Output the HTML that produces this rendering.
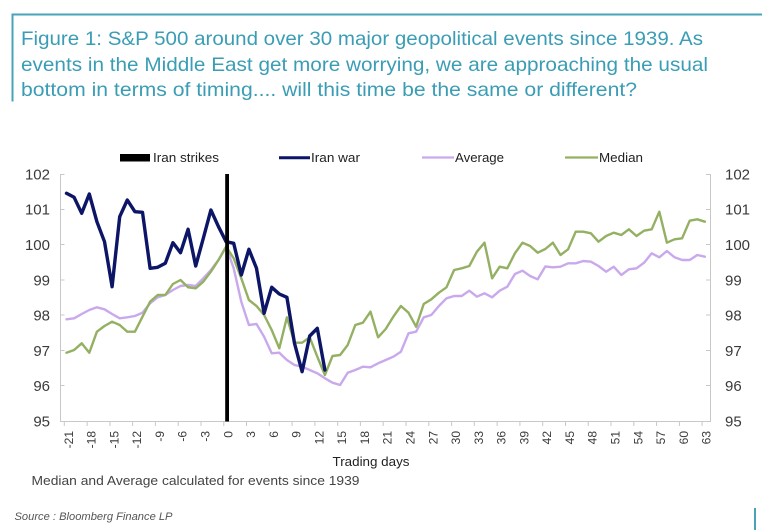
<!DOCTYPE html>
<html>
<head>
<meta charset="utf-8">
<style>
  html, body { margin: 0; padding: 0; background: #ffffff; }
  svg { display: block; }
  text { font-family: "Liberation Sans", "DejaVu Sans", sans-serif; }
</style>
</head>
<body>
<svg width="762" height="530" viewBox="0 0 762 530" xmlns="http://www.w3.org/2000/svg">
  <rect x="0" y="0" width="762" height="530" fill="#ffffff"/>

  <!-- teal frame -->
  <rect x="12" y="13.5" width="750" height="2" fill="#4aa4b9"/>
  <rect x="11.5" y="13.5" width="2" height="88" fill="#4aa4b9"/>
  <rect x="754" y="508" width="2" height="22" fill="#4aa4b9"/>

  <!-- title -->
  <g fill="#3a9db5" font-size="19.5">
    <text x="21" y="45" textLength="682" lengthAdjust="spacingAndGlyphs">Figure 1: S&amp;P 500 around over 30 major geopolitical events since 1939. As</text>
    <text x="21" y="71" textLength="687" lengthAdjust="spacingAndGlyphs">events in the Middle East get more worrying, we are approaching the usual</text>
    <text x="21" y="96" textLength="616" lengthAdjust="spacingAndGlyphs">bottom in terms of timing.... will this time be the same or different?</text>
  </g>

  <!-- legend -->
  <g font-size="13" fill="#222">
    <rect x="120" y="154" width="30" height="7.5" fill="#000"/>
    <text x="153" y="162" textLength="66" lengthAdjust="spacingAndGlyphs">Iran strikes</text>
    <line x1="279" y1="157.8" x2="310" y2="157.8" stroke="#0c1566" stroke-width="3"/>
    <text x="311" y="162" textLength="49" lengthAdjust="spacingAndGlyphs">Iran war</text>
    <line x1="422" y1="157.5" x2="454" y2="157.5" stroke="#c9a9ec" stroke-width="2.2"/>
    <text x="455" y="162" textLength="49" lengthAdjust="spacingAndGlyphs">Average</text>
    <line x1="565" y1="157.5" x2="598" y2="157.5" stroke="#94b062" stroke-width="2.2"/>
    <text x="599" y="162" textLength="44" lengthAdjust="spacingAndGlyphs">Median</text>
  </g>

  <!-- axes -->
  <g stroke="#c8c8c8" stroke-width="1" fill="none">
    <line x1="60.5" y1="174" x2="60.5" y2="421.5"/>
    <line x1="710.5" y1="174" x2="710.5" y2="421.5"/>
    <line x1="60" y1="421.5" x2="711" y2="421.5"/>
    <!-- left ticks -->
    <line x1="60" y1="174.5" x2="64.5" y2="174.5"/>
    <line x1="60" y1="209.5" x2="64.5" y2="209.5"/>
    <line x1="60" y1="244.5" x2="64.5" y2="244.5"/>
    <line x1="60" y1="280" x2="64.5" y2="280"/>
    <line x1="60" y1="315" x2="64.5" y2="315"/>
    <line x1="60" y1="350.5" x2="64.5" y2="350.5"/>
    <line x1="60" y1="385.5" x2="64.5" y2="385.5"/>
    <!-- right ticks -->
    <line x1="706" y1="174.5" x2="711" y2="174.5"/>
    <line x1="706" y1="209.5" x2="711" y2="209.5"/>
    <line x1="706" y1="244.5" x2="711" y2="244.5"/>
    <line x1="706" y1="280" x2="711" y2="280"/>
    <line x1="706" y1="315" x2="711" y2="315"/>
    <line x1="706" y1="350.5" x2="711" y2="350.5"/>
    <line x1="706" y1="385.5" x2="711" y2="385.5"/>
    <!-- x ticks -->
    <line x1="64.3" y1="421" x2="64.3" y2="426"/>
    <line x1="87.1" y1="421" x2="87.1" y2="426"/>
    <line x1="109.9" y1="421" x2="109.9" y2="426"/>
    <line x1="132.6" y1="421" x2="132.6" y2="426"/>
    <line x1="155.4" y1="421" x2="155.4" y2="426"/>
    <line x1="178.2" y1="421" x2="178.2" y2="426"/>
    <line x1="201" y1="421" x2="201" y2="426"/>
    <line x1="223.8" y1="421" x2="223.8" y2="426"/>
    <line x1="246.5" y1="421" x2="246.5" y2="426"/>
    <line x1="269.3" y1="421" x2="269.3" y2="426"/>
    <line x1="292.1" y1="421" x2="292.1" y2="426"/>
    <line x1="314.9" y1="421" x2="314.9" y2="426"/>
    <line x1="337.7" y1="421" x2="337.7" y2="426"/>
    <line x1="360.4" y1="421" x2="360.4" y2="426"/>
    <line x1="383.2" y1="421" x2="383.2" y2="426"/>
    <line x1="406" y1="421" x2="406" y2="426"/>
    <line x1="428.8" y1="421" x2="428.8" y2="426"/>
    <line x1="451.6" y1="421" x2="451.6" y2="426"/>
    <line x1="474.3" y1="421" x2="474.3" y2="426"/>
    <line x1="497.1" y1="421" x2="497.1" y2="426"/>
    <line x1="519.9" y1="421" x2="519.9" y2="426"/>
    <line x1="542.7" y1="421" x2="542.7" y2="426"/>
    <line x1="565.5" y1="421" x2="565.5" y2="426"/>
    <line x1="588.2" y1="421" x2="588.2" y2="426"/>
    <line x1="611" y1="421" x2="611" y2="426"/>
    <line x1="633.8" y1="421" x2="633.8" y2="426"/>
    <line x1="656.6" y1="421" x2="656.6" y2="426"/>
    <line x1="679.4" y1="421" x2="679.4" y2="426"/>
    <line x1="702.1" y1="421" x2="702.1" y2="426"/>
  </g>

  <!-- y labels left -->
  <g font-size="15" fill="#3a3a3a" text-anchor="end">
    <text x="50" y="179.4">102</text>
    <text x="50" y="214.7">101</text>
    <text x="50" y="250">100</text>
    <text x="50" y="285.3">99</text>
    <text x="50" y="320.5">98</text>
    <text x="50" y="355.8">97</text>
    <text x="50" y="391.1">96</text>
    <text x="50" y="426.4">95</text>
  </g>
  <!-- y labels right -->
  <g font-size="15" fill="#3a3a3a" text-anchor="start">
    <text x="725" y="179.4">102</text>
    <text x="725" y="214.7">101</text>
    <text x="725" y="250">100</text>
    <text x="725" y="285.3">99</text>
    <text x="725" y="320.5">98</text>
    <text x="725" y="355.8">97</text>
    <text x="725" y="391.1">96</text>
    <text x="725" y="426.4">95</text>
  </g>

  <!-- x labels (rotated) -->
  <g font-size="12" fill="#3a3a3a" text-anchor="end">
    <text transform="translate(72.8,431) rotate(-90)">-21</text>
    <text transform="translate(95.6,431) rotate(-90)">-18</text>
    <text transform="translate(118.4,431) rotate(-90)">-15</text>
    <text transform="translate(141.1,431) rotate(-90)">-12</text>
    <text transform="translate(163.9,431) rotate(-90)">-9</text>
    <text transform="translate(186.7,431) rotate(-90)">-6</text>
    <text transform="translate(209.5,431) rotate(-90)">-3</text>
    <text transform="translate(232.3,431) rotate(-90)">0</text>
    <text transform="translate(255,431) rotate(-90)">3</text>
    <text transform="translate(277.8,431) rotate(-90)">6</text>
    <text transform="translate(300.6,431) rotate(-90)">9</text>
    <text transform="translate(323.4,431) rotate(-90)">12</text>
    <text transform="translate(346.2,431) rotate(-90)">15</text>
    <text transform="translate(368.9,431) rotate(-90)">18</text>
    <text transform="translate(391.7,431) rotate(-90)">21</text>
    <text transform="translate(414.5,431) rotate(-90)">24</text>
    <text transform="translate(437.3,431) rotate(-90)">27</text>
    <text transform="translate(460.1,431) rotate(-90)">30</text>
    <text transform="translate(482.8,431) rotate(-90)">33</text>
    <text transform="translate(505.6,431) rotate(-90)">36</text>
    <text transform="translate(528.4,431) rotate(-90)">39</text>
    <text transform="translate(551.2,431) rotate(-90)">42</text>
    <text transform="translate(574,431) rotate(-90)">45</text>
    <text transform="translate(596.7,431) rotate(-90)">48</text>
    <text transform="translate(619.5,431) rotate(-90)">51</text>
    <text transform="translate(642.3,431) rotate(-90)">54</text>
    <text transform="translate(665.1,431) rotate(-90)">57</text>
    <text transform="translate(687.9,431) rotate(-90)">60</text>
    <text transform="translate(710.6,431) rotate(-90)">63</text>
  </g>

  <text x="371" y="466" font-size="13" fill="#222" text-anchor="middle" textLength="77" lengthAdjust="spacingAndGlyphs">Trading days</text>

  <!-- series -->
  <g transform="translate(66.5,0) scale(7.6,1)" fill="none" stroke-linejoin="round" stroke-linecap="round">
    <polyline vector-effect="non-scaling-stroke" stroke="#c9a9ec" stroke-width="2.4"
      points="0,319.3 1,318.3 2,314 3,310 4,307.3 5,309.3 6,314 7,318.3 8,317.3 9,316 10,312.7 11,303.3 12,297.3 13,295 14,290 15,286 16,285 17,286 18,278.3 19,270 20,260 21,246.7 22,268.3 23,301.7 24,325 25,324 26,336.7 27,353.3 28,352.7 29,360 30,365 31,366.7 32,370 33,373.3 34,378.3 35,382.7 36,385 37,372.7 38,370 39,366.7 40,367.3 41,363.3 42,360 43,356.7 44,351.7 45,333.3 46,331.7 47,317.3 48,315 49,306 50,298.3 51,296 52,296 53,290.7 54,296.7 55,293.3 56,297.3 57,290.7 58,286.7 59,274 60,270.7 61,276 62,279.3 63,266.5 64,267.3 65,266.7 66,263.3 67,263.3 68,261 69,261.7 70,266 71,271.7 72,266.7 73,275 74,269.3 75,268.3 76,262.7 77,253.3 78,257.3 79,251 80,257.3 81,260 82,260 83,255 84,256.7"/>
    <polyline vector-effect="non-scaling-stroke" stroke="#94b062" stroke-width="2.4"
      points="0,352.7 1,350 2,343.3 3,352.7 4,331.7 5,326 6,321.7 7,325 8,331.7 9,331.7 10,316.7 11,301.7 12,295 13,295 14,284 15,280 16,287.3 17,288.3 18,281.7 19,271.7 20,260 21,246.7 22,258.3 23,278.3 24,300 25,306 26,315 27,330 28,348.3 29,317.3 30,342.7 31,342.7 32,337.3 33,356.7 34,375 35,356 36,355 37,345 38,325 39,322.7 40,311.7 41,337.3 42,329 43,316.7 44,306 45,312.7 46,326.7 47,304 48,299.3 49,292.7 50,287.3 51,270 52,268.3 53,266 54,251.7 55,242.7 56,278.3 57,266.7 58,268.3 59,253.3 60,242.7 61,246 62,252.7 63,249 64,242.7 65,255 66,249.3 67,231.7 68,231.7 69,233.3 70,241.7 71,236 72,232.7 73,235 74,229.3 75,236 76,230.7 77,229.3 78,211.7 79,242.7 80,239.3 81,238.3 82,220.7 83,219.3 84,221.7"/>
    <polyline vector-effect="non-scaling-stroke" stroke="#0c1566" stroke-width="3.4"
      points="0,193.3 1,197.3 2,213.3 3,194 4,221.7 5,241.7 6,286.7 7,216.7 8,200 9,211.7 10,212.3 11,268.3 12,267.3 13,263.3 14,242.7 15,252.7 16,229.3 17,266 18,238.3 19,210 20,226.7 21,241.7 22,243.3 23,275 24,249.3 25,268.3 26,313.3 27,287.3 28,294 29,297.3 30,343.3 31,371.7 32,336 33,328.3 34,370"/>
  </g>

  <!-- Iran strikes bar -->
  <rect x="225.2" y="174" width="3.8" height="247.5" fill="#000"/>

  <!-- footnotes -->
  <text x="31.5" y="485" font-size="13" fill="#444" textLength="328" lengthAdjust="spacingAndGlyphs">Median and Average calculated for events since 1939</text>
  <text x="14.5" y="520" font-size="11" font-style="italic" fill="#555" textLength="158" lengthAdjust="spacingAndGlyphs">Source : Bloomberg Finance LP</text>
</svg>
</body>
</html>
